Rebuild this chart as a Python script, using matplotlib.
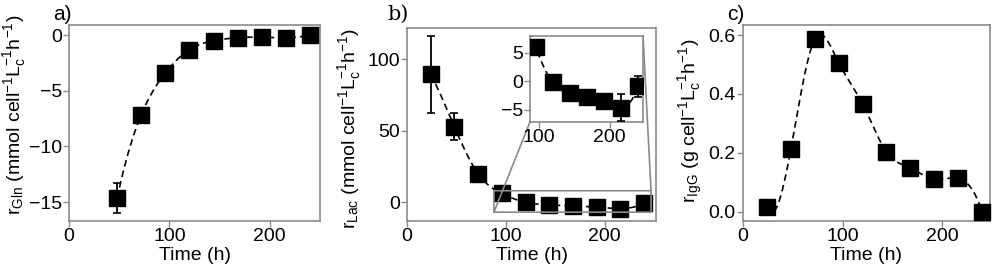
import numpy as np
import matplotlib
matplotlib.use("Agg")
import matplotlib.pyplot as plt

plt.rcParams['font.family'] = ['Liberation Sans', 'DejaVu Sans']
plt.rcParams['mathtext.fontset'] = 'custom'
plt.rcParams['mathtext.rm'] = 'Liberation Sans'
plt.rcParams['mathtext.it'] = 'Liberation Sans'
plt.rcParams['mathtext.bf'] = 'Liberation Sans:bold'
plt.rcParams['font.size'] = 14

# ---------------- data ----------------
time_gln = [48, 72, 96, 120, 144, 168, 192, 216, 240]
r_gln = [-14.65, -7.15, -3.4, -1.3, -0.52, -0.24, -0.2, -0.24, 0.0]
r_gln_err = [1.35, 0.3, 0.2, 0.1, 0.1, 0.1, 0.1, 0.1, 0.1]

time_lac = [24, 48, 72, 96, 120, 144, 168, 192, 216, 240]
r_lac = [89.5, 52.7, 19.8, 6.0, -0.2, -2.0, -2.8, -3.5, -4.6, -0.9]
r_lac_err = [27.0, 9.5, 1.0, 0.8, 0.3, 0.4, 0.4, 1.0, 2.3, 1.8]

time_igg = [24, 48, 72, 96, 120, 144, 168, 192, 216, 240]
r_igg = [0.017, 0.211, 0.585, 0.506, 0.367, 0.203, 0.148, 0.110, 0.113, 0.0]

panel_labels = ['a)', 'b)', 'c)']
ylabels = [r'r$_{\mathrm{Gln}}$ (mmol cell$^{-1}$L$_{\mathrm{c}}^{-1}$h$^{-1}$)',
           r'r$_{\mathrm{Lac}}$ (mmol cell$^{-1}$L$_{\mathrm{c}}^{-1}$h$^{-1}$)',
           r'r$_{\mathrm{IgG}}$ (g cell$^{-1}$L$_{\mathrm{c}}^{-1}$h$^{-1}$)']
xlabel = 'Time (h)'


def spline(x, y, n=400):
    """not-a-knot cubic spline through the data points"""
    x = np.asarray(x, float)
    y = np.asarray(y, float)
    N = len(x)
    h = np.diff(x)
    A = np.zeros((N, N))
    b = np.zeros(N)
    A[0, 0], A[0, 1], A[0, 2] = h[1], -(h[0] + h[1]), h[0]
    A[-1, -3], A[-1, -2], A[-1, -1] = h[-1], -(h[-2] + h[-1]), h[-2]
    for i in range(1, N - 1):
        A[i, i - 1] = h[i - 1]
        A[i, i] = 2 * (h[i - 1] + h[i])
        A[i, i + 1] = h[i]
        b[i] = 6 * ((y[i + 1] - y[i]) / h[i] - (y[i] - y[i - 1]) / h[i - 1])
    M = np.linalg.solve(A, b)
    xs = np.linspace(x[0], x[-1], n)
    idx = np.clip(np.searchsorted(x, xs) - 1, 0, N - 2)
    x0, x1 = x[idx], x[idx + 1]
    hh = x1 - x0
    ys = (M[idx] * (x1 - xs) ** 3 / (6 * hh) + M[idx + 1] * (xs - x0) ** 3 / (6 * hh)
          + (y[idx] / hh - M[idx] * hh / 6) * (x1 - xs)
          + (y[idx + 1] / hh - M[idx + 1] * hh / 6) * (xs - x0))
    return xs, ys


SPINE = '#8a8a8a'


def style(ax):
    for s in ax.spines.values():
        s.set_color(SPINE)
        s.set_linewidth(1.2)
    ax.tick_params(color=SPINE, length=4, width=1.0, labelsize=14, pad=1.2)


def draw(ax, t, v, err=None, ms=11, clip=True):
    xs, ys = spline(t, v)
    ax.plot(xs, ys, color='black', ls=(0, (4, 2.5)), lw=1.2, zorder=2)
    eb = ax.errorbar(t, v, yerr=err, fmt='s', color='black', ms=ms, capsize=3,
                     elinewidth=1.3, capthick=1.2, zorder=3)
    if not clip:
        eb[0].set_clip_on(False)


fig = plt.figure(figsize=(9.96, 2.68), dpi=100)
W, H = 996.0, 268.0


def add_axes(l, r, t, b):
    return fig.add_axes([l / W, 1 - b / H, (r - l) / W, (b - t) / H])


# panel a
axa = add_axes(69, 320, 25, 221)
draw(axa, time_gln, r_gln, r_gln_err)
axa.set_xlim(0, 250)
axa.set_ylim(-16.7, 0.9)
axa.set_yticks([0, -5, -10, -15])
axa.set_xticks([0, 100, 200])
axa.set_ylabel(ylabels[0])
axa.yaxis.set_label_coords(-0.165, 0.54)
axa.set_xlabel(xlabel, labelpad=1)
style(axa)

# panel b
axb = add_axes(407, 656, 28, 221)
draw(axb, time_lac, r_lac, r_lac_err)
axb.set_xlim(0, 252)
axb.set_ylim(-13.3, 122)
axb.set_yticks([0, 50, 100])
axb.set_xticks([0, 100, 200])
axb.set_ylabel(ylabels[1])
axb.yaxis.set_label_coords(-0.178, 0.48)
axb.set_xlabel(xlabel, labelpad=1)
style(axb)

axins = add_axes(530, 643, 36, 122)
draw(axins, time_lac, r_lac, r_lac_err)
axins.set_xlim(88, 247)
axins.set_ylim(-7.1, 7.9)
axins.set_yticks([5, 0, -5])
axins.set_xticks([100, 200])
style(axins)
axb.indicate_inset_zoom(axins, edgecolor=SPINE, alpha=1, lw=1.2)

# panel c
axc = add_axes(743, 990, 25, 221)
draw(axc, time_igg, r_igg, clip=False)
axc.set_xlim(0, 248)
axc.set_ylim(-0.032, 0.634)
axc.set_yticks([0.0, 0.2, 0.4, 0.6])
axc.set_xticks([0, 100, 200])
axc.set_ylabel(ylabels[2])
axc.yaxis.set_label_coords(-0.155, 0.51)
axc.set_xlabel(xlabel, labelpad=1)
style(axc)

fig.text(53 / W, 1 - 14 / H, panel_labels[0], fontsize=15, va='center', ha='left')
fig.text(387 / W, 1 - 14 / H, panel_labels[1], fontsize=15, va='center', ha='left',
         family='DejaVu Serif')
fig.text(727 / W, 1 - 14 / H, panel_labels[2], fontsize=15, va='center', ha='left')

fig.savefig('out.png', dpi=100)
